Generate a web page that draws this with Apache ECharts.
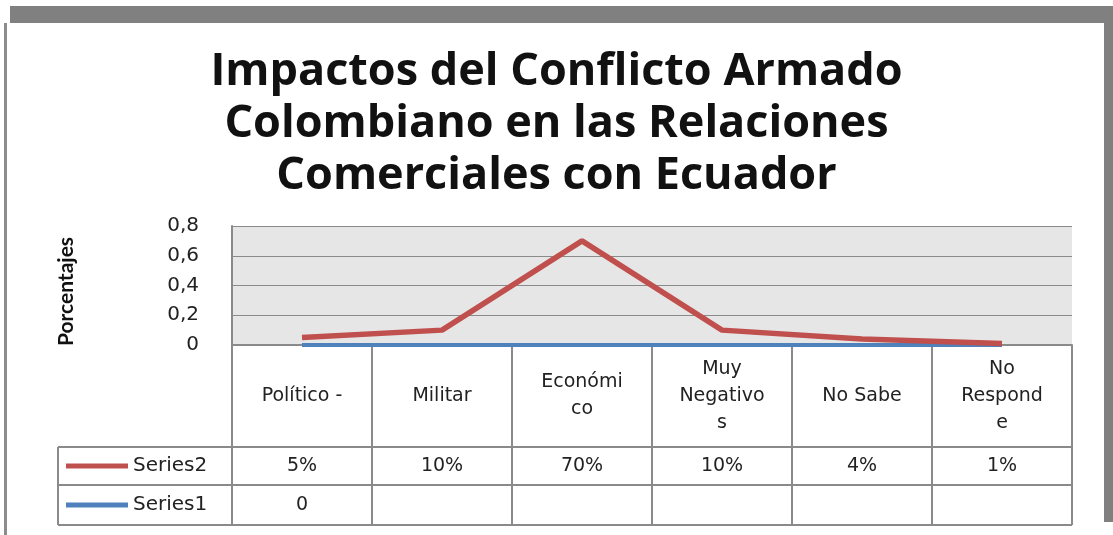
<!DOCTYPE html>
<html>
<head>
<meta charset="utf-8">
<script src="https://cdn.jsdelivr.net/npm/echarts@6/dist/echarts.min.js"></script>
<style>
  html, body { margin: 0; padding: 0; background: #fff; }
  #chart { width: 1113px; height: 535px; }
</style>
</head>
<body>
<div id="chart"></div>
<script>
// categorias (como aparecen cortadas en la tabla)
var categories = ['Político -', 'Militar', 'Económi\nco', 'Muy\nNegativo\ns', 'No Sabe', 'No\nRespond\ne'];
// Series2 (porcentajes)
var series2 = [0.05, 0.10, 0.70, 0.10, 0.04, 0.01];
var series2Labels = ['5%', '10%', '70%', '10%', '4%', '1%'];
// Series1
var series1 = [0, 0, 0, 0, 0, 0];
var series1Labels = ['0', '', '', '', '', ''];
// eje y
var yTicks = [0, 0.2, 0.4, 0.6, 0.8];

var gray = '#8a8a8a';
var txt = '#222';
var font = 'DejaVu Sans';

var myChart = echarts.init(document.getElementById('chart'));

var option = {
    backgroundColor: '#fff',
    animation: false,
    title: {
        text: 'Impactos del Conflicto Armado\nColombiano en las Relaciones\nComerciales con Ecuador',
        left: 'center',
        top: 41,
        textStyle: {
            fontFamily: 'Open Sans',
            fontWeight: 'bold',
            fontSize: 45,
            lineHeight: 52,
            color: '#111'
        }
    },
    legend: {
        orient: 'vertical',
        left: 66,
        top: 456,
        padding: 0,
        itemWidth: 62,
        itemHeight: 5,
        itemGap: 19,
        icon: 'rect',
        data: ['Series2', 'Series1'],
        textStyle: { fontFamily: font, fontSize: 20, lineHeight: 20, color: txt }
    },
    grid: {
        left: 232,
        right: 41,
        top: 226,
        height: 119,
        show: true,
        backgroundColor: '#e6e6e6',
        borderWidth: 0
    },
    xAxis: [
        {
            type: 'category',
            data: categories,
            boundaryGap: true,
            axisLine: { show: true, lineStyle: { color: gray, width: 2 } },
            axisTick: { show: true, length: 180, lineStyle: { color: gray, width: 2 } },
            axisLabel: {
                interval: 0,
                margin: 51,
                verticalAlign: 'middle',
                lineHeight: 27,
                fontFamily: font,
                fontSize: 19,
                color: txt
            }
        },
        {
            type: 'category',
            data: categories,
            position: 'bottom',
            axisLine: { show: false },
            axisTick: { show: false },
            axisLabel: {
                interval: 0,
                margin: 121,
                verticalAlign: 'middle',
                fontFamily: font,
                fontSize: 19,
                color: txt,
                formatter: function (v, i) { return series2Labels[i]; }
            }
        },
        {
            type: 'category',
            data: categories,
            position: 'bottom',
            axisLine: { show: false },
            axisTick: { show: false },
            axisLabel: {
                interval: 0,
                margin: 160,
                verticalAlign: 'middle',
                fontFamily: font,
                fontSize: 19,
                color: txt,
                formatter: function (v, i) { return series1Labels[i]; }
            }
        }
    ],
    yAxis: {
        type: 'value',
        min: yTicks[0],
        max: yTicks[yTicks.length - 1],
        interval: 0.2,
        name: 'Porcentajes',
        nameLocation: 'middle',
        nameRotate: 90,
        nameGap: 155,
        nameTextStyle: { fontFamily: 'Lato', fontWeight: 'bold', fontSize: 21, color: '#111', padding: [0, 12, 0, 0] },
        axisLine: { show: true, lineStyle: { color: gray, width: 2 } },
        axisTick: { show: false },
        splitLine: { lineStyle: { color: gray, width: 1 } },
        axisLabel: {
            margin: 33,
            fontFamily: font,
            fontSize: 20,
            color: txt,
            formatter: function (v) { return String(Math.round(v * 10) / 10).replace('.', ','); }
        }
    },
    series: [
        {
            name: 'Series1',
            type: 'line',
            xAxisIndex: 0,
            data: series1,
            symbol: 'none',
            color: '#4f81bd',
            lineStyle: { width: 4, color: '#4f81bd' }
        },
        {
            name: 'Series2',
            type: 'line',
            xAxisIndex: 0,
            data: series2,
            symbol: 'none',
            color: '#c0504d',
            lineStyle: { width: 5.5, color: '#c0504d' }
        }
    ],
    graphic: [
        // marco
        { type: 'rect', shape: { x: 10, y: 6, width: 1103, height: 17 }, style: { fill: '#808080' } },
        { type: 'rect', shape: { x: 1104, y: 23, width: 9, height: 499 }, style: { fill: '#808080' } },
        { type: 'rect', shape: { x: 4, y: 23, width: 3, height: 512 }, style: { fill: '#8c8c8c' } },
        // tabla de datos
        { type: 'line', shape: { x1: 58, y1: 447, x2: 1072, y2: 447 }, style: { stroke: gray, lineWidth: 2 } },
        { type: 'line', shape: { x1: 58, y1: 485, x2: 1072, y2: 485 }, style: { stroke: gray, lineWidth: 2 } },
        { type: 'line', shape: { x1: 58, y1: 525, x2: 1072, y2: 525 }, style: { stroke: gray, lineWidth: 2 } },
        { type: 'line', shape: { x1: 58, y1: 447, x2: 58, y2: 525 }, style: { stroke: gray, lineWidth: 2 } }
    ]
};

myChart.setOption(option);
</script>
</body>
</html>
